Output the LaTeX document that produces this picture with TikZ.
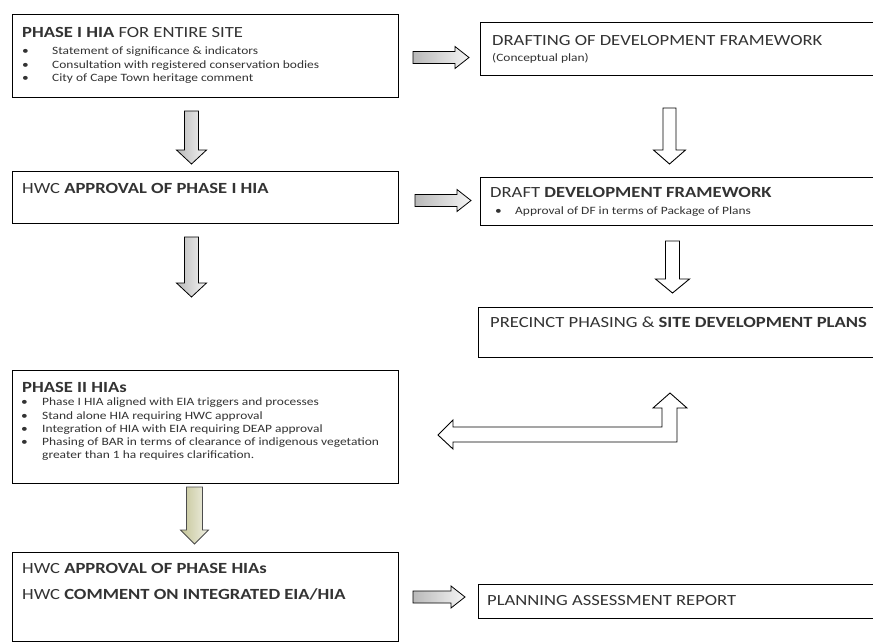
\documentclass[tikz,border=0pt]{standalone}
\usepackage{fontspec}
\setmainfont[FakeStretch=1.2]{Carlito}
\usetikzlibrary{positioning,calc}

\definecolor{khaki}{RGB}{196,196,150}
\newcommand{\bitem}[2]{\makebox[#1][l]{\textbullet}#2}
% [style]{start}{angle}{length}{shaft half width}{head half width}
\newcommand{\blockarrow}[6][greyarrow]{%
	\draw[#1, shift={#2}, rotate=#3] (0,-#5) -- ({#4-14},-#5) -- ({#4-14},-#6) -- (#4,0)
		-- ({#4-14},#6) -- ({#4-14},#5) -- (0,#5) -- cycle;}

\tikzset{
	box/.style={draw, line width=1pt, anchor=north west, inner sep=0pt},
	ttl/.style={font=\fontsize{15.5}{18}\selectfont, text=black!80, anchor=north west, inner sep=0pt, align=left},
	itemlist/.style={font=\fontsize{11.2}{13.2}\selectfont, text=black!80, anchor=north west, inner sep=0pt, align=left},
	greyarrow/.style={draw, line width=0.8pt, left color=gray!55, right color=gray!8},
	khakiarrow/.style={draw=black!70, line width=0.8pt, left color=khaki, right color=khaki!25},
	whitearrow/.style={draw, line width=0.9pt, fill=white},
}

\begin{document}
\begin{tikzpicture}[x=1pt, y=-1pt]
	\fill[white] (0,0) rectangle (873,643);
	\useasboundingbox (0,0) rectangle (873,643);

	% left column
	\node[box, minimum width=386pt, minimum height=83pt] (phaseI) at (12,14) {};
	\node[ttl] at ([shift={(10,13)}]phaseI.north west) {\textbf{PHASE I HIA} FOR ENTIRE SITE};
	\node[itemlist] at ([shift={(10,33)}]phaseI.north west) {%
		\bitem{30pt}{Statement of significance \& indicators}\\
		\bitem{30pt}{Consultation with registered conservation bodies}\\
		\bitem{30pt}{City of Cape Town heritage comment}};

	\node[box, minimum width=386pt, minimum height=52pt] (hwcI) at (12,171) {};
	\node[ttl] at ([shift={(10,12)}]hwcI.north west) {HWC \textbf{APPROVAL OF PHASE I HIA}};

	\node[box, minimum width=386pt, minimum height=113pt] (phaseII) at (12,370) {};
	\node[ttl] at ([shift={(10,12)}]phaseII.north west) {\textbf{PHASE II HIAs}};
	\node[itemlist] at ([shift={(9,28)}]phaseII.north west) {%
		\bitem{21pt}{Phase I HIA aligned with EIA triggers and processes}\\
		\bitem{21pt}{Stand alone HIA requiring HWC approval}\\
		\bitem{21pt}{Integration of HIA with EIA requiring DEAP approval}\\
		\bitem{21pt}{Phasing of BAR in terms of clearance of indigenous vegetation}\\
		\hspace*{21pt}greater than 1 ha requires clarification.};

	\node[box, minimum width=386pt, minimum height=89pt] (hwcII) at (12,552) {};
	\node[ttl] at ([shift={(10,11)}]hwcII.north west) {HWC \textbf{APPROVAL OF PHASE HIAs}};
	\node[ttl] at ([shift={(10,36)}]hwcII.north west) {HWC \textbf{COMMENT ON INTEGRATED EIA/HIA}};

	% right column
	\node[box, minimum width=400pt, minimum height=53pt] (drafting) at (480,22) {};
	\node[ttl] at ([shift={(12,13)}]drafting.north west) {DRAFTING OF DEVELOPMENT FRAMEWORK};
	\node[itemlist] at ([shift={(12,31)}]drafting.north west) {(Conceptual plan)};

	\node[box, minimum width=400pt, minimum height=48pt] (draftDF) at (480,177) {};
	\node[ttl] at ([shift={(10,10)}]draftDF.north west) {DRAFT \textbf{DEVELOPMENT FRAMEWORK}};
	\node[itemlist] at ([shift={(15,30)}]draftDF.north west) {\bitem{20pt}{Approval of DF in terms of Package of Plans}};

	\node[box, minimum width=402pt, minimum height=50pt] (precinct) at (478,307) {};
	\node[ttl] at ([shift={(12,10)}]precinct.north west) {PRECINCT PHASING \& \textbf{SITE DEVELOPMENT PLANS}};

	\node[box, minimum width=402pt, minimum height=34pt] (par) at (478,584) {};
	\node[ttl] at ([shift={(9,11)}]par.north west) {PLANNING ASSESSMENT REPORT};

	% block arrows
	\blockarrow{([xshift=14pt,yshift=-1.5pt]phaseI.east)}{0}{56}{6}{11}
	\blockarrow{([xshift=16pt,yshift=-3pt]hwcI.east)}{0}{56}{6}{11}
	\blockarrow{([xshift=14pt]hwcII.east)}{0}{52}{6}{11}
	\blockarrow{([xshift=-14pt,yshift=-13pt]phaseI.south)}{-90}{53}{7}{15}
	\blockarrow{([xshift=-14pt,yshift=-13pt]hwcI.south)}{-90}{60}{7}{15}
	\blockarrow[khakiarrow]{([xshift=-11pt,yshift=-3pt]phaseII.south)}{-90}{57}{8}{14}
	\blockarrow[whitearrow]{([xshift=-11pt,yshift=-32pt]drafting.south)}{-90}{56}{6.5}{16}
	\blockarrow[whitearrow]{([xshift=-8pt,yshift=-15pt]draftDF.south)}{-90}{52}{7}{17}

	% bent arrow back to phase II
	\draw[whitearrow] (670,393) -- (687,408) -- (677,408) -- (677,442) -- (453,442) -- (453,449)
		-- (438,435) -- (453,420) -- (453,427) -- (662,427) -- (662,408) -- (653,408) -- cycle;
\end{tikzpicture}
\end{document}
